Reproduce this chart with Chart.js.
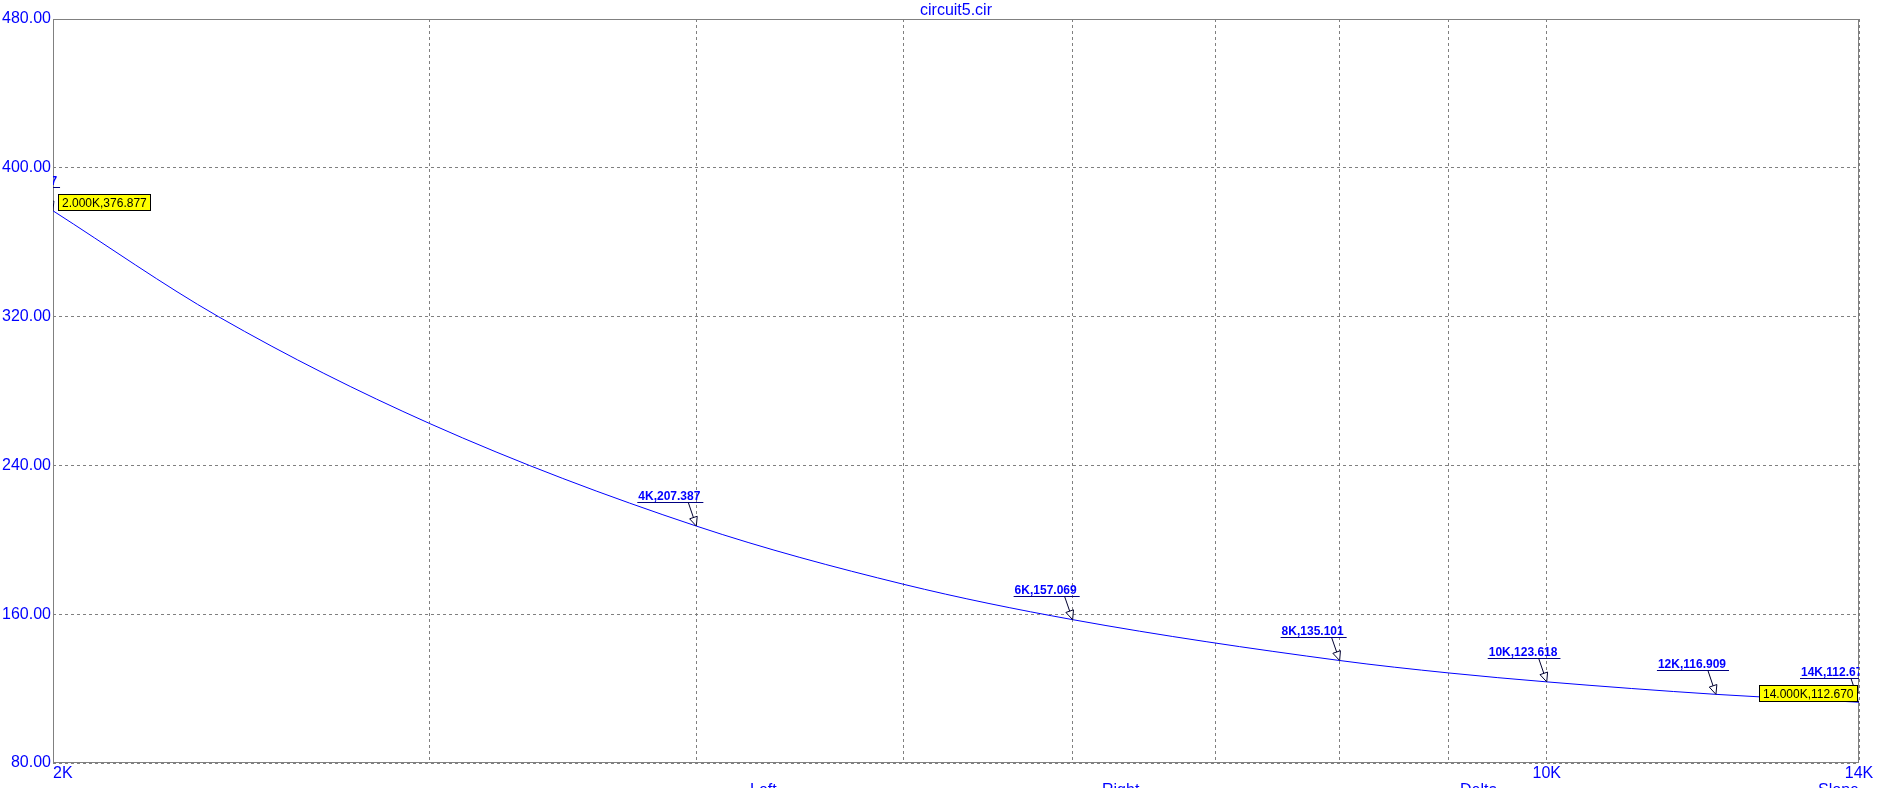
<!DOCTYPE html>
<html>
<head>
<meta charset="utf-8">
<script src="https://cdn.jsdelivr.net/npm/chart.js@4/dist/chart.umd.min.js"></script>
<style>
  html, body { margin: 0; padding: 0; background: #fff; }
  #wrap { width: 1882px; height: 788px; position: relative; }
</style>
</head>
<body>
<div id="wrap"><canvas id="plot"></canvas></div>
<script>
// curve (frequency in Hz, value)
var freqs = [2000, 2390, 3000, 4000, 5000, 6000, 8000, 9000, 10000, 12000, 14000];
var values = [376.877, 320.0, 262.6, 207.387, 176.1, 157.069, 135.101, 128.4, 123.618, 116.909, 112.67];

var xTicks = [2000, 3000, 4000, 5000, 6000, 7000, 8000, 9000, 10000, 14000];
var xTickLabels = { 2000: "2K", 10000: "10K", 14000: "14K" };
var yTicks = [80, 160, 240, 320, 400, 480];

var markerX = [2000, 4000, 6000, 8000, 10000, 12000, 14000];
var markerY = [376.877, 207.387, 157.069, 135.101, 123.618, 116.909, 112.67];
var markerText = ["2K,376.877", "4K,207.387", "6K,157.069", "8K,135.101", "10K,123.618", "12K,116.909", "14K,112.67"];

var cursorX = [2000, 14000];
var cursorY = [376.877, 112.67];
var cursorText = ["2.000K,376.877", "14.000K,112.670"];

var bottomNames = ["Left", "Right", "Delta", "Slope"];
var bottomNameX = [750, 1102, 1460, 1818];

var BLUE = "#0000ff";
var GRID = "#808080";

var extras = {
  id: "extras",
  beforeDatasetsDraw: function (chart) {
    var ctx = chart.ctx, a = chart.chartArea;
    ctx.save();
    ctx.strokeStyle = GRID;
    ctx.lineWidth = 1;
    ctx.strokeRect(Math.round(a.left) + 0.5, Math.round(a.top) + 0.5,
      Math.round(a.right - a.left) - 1, Math.round(a.bottom - a.top) - 1);
    ctx.restore();
  },
  afterDatasetsDraw: function (chart) {
    var ctx = chart.ctx, a = chart.chartArea;
    var xs = chart.scales.x, ys = chart.scales.y;

    // marker labels with arrows
    ctx.save();
    ctx.beginPath();
    ctx.rect(a.left, a.top, a.right - a.left, a.bottom - a.top);
    ctx.clip();
    ctx.font = "bold 12px Arial";
    ctx.textBaseline = "alphabetic";
    ctx.textAlign = "left";
    for (var i = 0; i < markerX.length; i++) {
      var px = xs.getPixelForValue(markerX[i]);
      var py = ys.getPixelForValue(markerY[i]);
      var tx = px - 58;
      var uy = Math.round(py - 24) + 0.5;
      var w = ctx.measureText(markerText[i]).width;
      ctx.fillStyle = BLUE;
      ctx.fillText(markerText[i], tx, uy - 3);
      ctx.strokeStyle = "#000080";
      ctx.lineWidth = 1;
      ctx.beginPath();
      ctx.moveTo(tx - 1, uy);
      ctx.lineTo(tx + w + 3, uy);
      ctx.stroke();
      // arrow
      var sx = px - 8, sy = uy;
      var ang = Math.atan2(py - sy, px - sx);
      ctx.strokeStyle = "#000030";
      ctx.beginPath();
      ctx.moveTo(sx, sy);
      ctx.lineTo(px - 8 * Math.cos(ang), py - 8 * Math.sin(ang));
      ctx.stroke();
      var hx = px - 9 * Math.cos(ang), hy = py - 9 * Math.sin(ang);
      ctx.beginPath();
      ctx.moveTo(px, py);
      ctx.lineTo(hx + 4 * Math.sin(ang), hy - 4 * Math.cos(ang));
      ctx.lineTo(hx - 4 * Math.sin(ang), hy + 4 * Math.cos(ang));
      ctx.closePath();
      ctx.fillStyle = "#fff";
      ctx.fill();
      ctx.stroke();
    }
    ctx.restore();

    // yellow cursor boxes
    ctx.save();
    ctx.font = "12px Arial";
    ctx.textBaseline = "middle";
    ctx.textAlign = "left";
    for (var j = 0; j < cursorX.length; j++) {
      var cx = xs.getPixelForValue(cursorX[j]);
      var cy = ys.getPixelForValue(cursorY[j]);
      var tw = ctx.measureText(cursorText[j]).width;
      var bw = Math.round(tw + 8), bh = 17;
      var bx = j === 0 ? Math.round(cx + 5) : Math.round(a.right - 1 - bw);
      var by = Math.round(cy - bh);
      ctx.fillStyle = "#ffff00";
      ctx.fillRect(bx, by, bw, bh);
      ctx.strokeStyle = "#000";
      ctx.lineWidth = 1;
      ctx.strokeRect(bx + 0.5, by + 0.5, bw - 1, bh - 1);
      ctx.fillStyle = "#000";
      ctx.fillText(cursorText[j], bx + 4, by + bh / 2 + 1);
    }
    ctx.restore();

    // x tick labels, title, bottom names
    ctx.save();
    ctx.fillStyle = BLUE;
    ctx.font = "16px Arial";
    ctx.textBaseline = "top";
    xTicks.forEach(function (v) {
      if (!xTickLabels[v]) return;
      ctx.textAlign = v === xTicks[0] ? "left" : "center";
      ctx.fillText(xTickLabels[v], xs.getPixelForValue(v), a.bottom + 3);
    });
    ctx.textAlign = "center";
    ctx.textBaseline = "alphabetic";
    ctx.fillText("circuit5.cir", (a.left + a.right) / 2, 15);
    ctx.textAlign = "left";
    ctx.textBaseline = "top";
    for (var k = 0; k < bottomNames.length; k++) {
      ctx.fillText(bottomNames[k], bottomNameX[k], 783);
    }
    ctx.restore();
  }
};

new Chart("plot", {
  type: "line",
  data: {
    datasets: [
      {
        data: freqs.map(function (f, i) { return { x: f, y: values[i] }; }),
        borderColor: BLUE,
        borderWidth: 1,
        pointRadius: 0,
        fill: false,
        cubicInterpolationMode: "monotone",
      },
    ],
  },
  options: {
    responsive: true,
    maintainAspectRatio: false,
    animation: false,
    layout: { padding: { top: 19, right: 23, left: 0, bottom: 0 } },
    plugins: { legend: { display: false }, tooltip: { enabled: false } },
    scales: {
      x: {
        type: "logarithmic",
        min: 2000,
        max: 14000,
        afterBuildTicks: function (s) { s.ticks = xTicks.map(function (v) { return { value: v }; }); },
        afterFit: function (s) { s.height = 25; },
        ticks: { display: false },
        grid: { color: GRID, lineWidth: 1, drawTicks: false },
        border: { display: false, dash: [3, 3] },
      },
      y: {
        min: 80,
        max: 480,
        afterBuildTicks: function (s) { s.ticks = yTicks.map(function (v) { return { value: v }; }); },
        afterFit: function (s) { s.width = 53; },
        ticks: {
          color: BLUE,
          padding: 2,
          font: { family: "Arial", size: 16 },
          callback: function (v) { return Number(v).toFixed(2); },
        },
        grid: { color: GRID, lineWidth: 1, drawTicks: false },
        border: { display: false, dash: [3, 3] },
      },
    },
  },
  plugins: [extras],
});
</script>
</body>
</html>
